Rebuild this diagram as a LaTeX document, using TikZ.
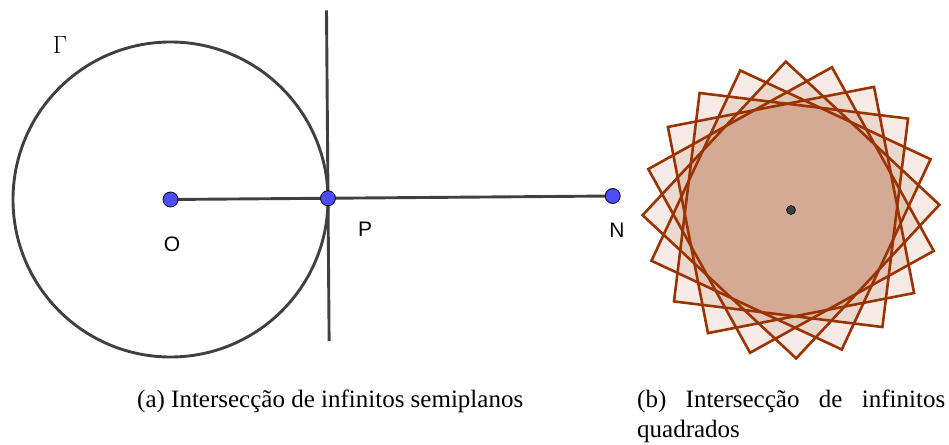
\documentclass[tikz,border=0pt]{standalone}
\usepackage[no-math]{fontspec}
\setmainfont{Liberation Serif}
\newfontfamily\labelfont{Liberation Sans}
\usetikzlibrary{calc}
\definecolor{curvegray}{RGB}{64,64,64}
\definecolor{ptblue}{RGB}{77,77,255}
\definecolor{sqbrown}{RGB}{153,51,0}

\begin{document}
\begin{tikzpicture}[
  x=1pt, y=1pt,
  curve/.style={draw=curvegray, line width=2.9pt},
  ptdot/.style={circle, draw=black, fill=ptblue, line width=0.8pt, inner sep=0pt, minimum size=15pt},
  cdot/.style={circle, draw=black, fill=curvegray, line width=0.6pt, inner sep=0pt, minimum size=9pt},
  lbl/.style={font=\labelfont\fontsize{21}{25}\selectfont},
  sq/.style={draw=sqbrown, line width=2.6pt, fill=sqbrown, fill opacity=0.1},
  captext/.style={font=\fontsize{25}{30}\selectfont, inner sep=0pt},
]
\useasboundingbox (0,0) rectangle (949,444);

% Circle, radius and tangent
\coordinate (O) at (170.5,244.5);
\coordinate (N) at (612.7,248);
\coordinate (P) at ($(O)!157.5pt!(N)$);
\coordinate (Ttop) at ($(P)!188pt!90:(N)$);
\coordinate (Tbot) at ($(P)!143pt!-90:(N)$);
\draw[curve] (O) circle (157.5pt);
\draw[curve] (Ttop) -- (Tbot);
\draw[curve] (O) -- (N);

% Points
\node[ptdot] (Odot) at (O) {};
\node[ptdot] (Pdot) at (P) {};
\node[ptdot] (Ndot) at (N) {};
\node[lbl] (Olbl) at (172,200) {O};
\node[lbl] (Plbl) at (365,215) {P};
\node[lbl] (Nlbl) at (617,214) {N};
\node[font=\fontsize{27}{32}\selectfont] (gam) at (60,399) {$\Gamma$};

% Rotated squares
\coordinate (C) at (791,234);
\foreach \a in {11,29,47,65,83}
  \draw[sq] ($(C)+(\a+45:148.5pt)$) -- ($(C)+(\a+135:148.5pt)$)
    -- ($(C)+(\a+225:148.5pt)$) -- ($(C)+(\a+315:148.5pt)$) -- cycle;
\node[cdot] (Cdot) at (C) {};

% Captions
\node[captext, anchor=base west] (capa) at (137,37) {(a) Intersecção de infinitos semiplanos};
\node[captext, anchor=base west, text width=308pt, align=justify] (capb) at (637,37)
  {(b) Intersecção de infinitos quadrados};

\end{tikzpicture}
\end{document}
